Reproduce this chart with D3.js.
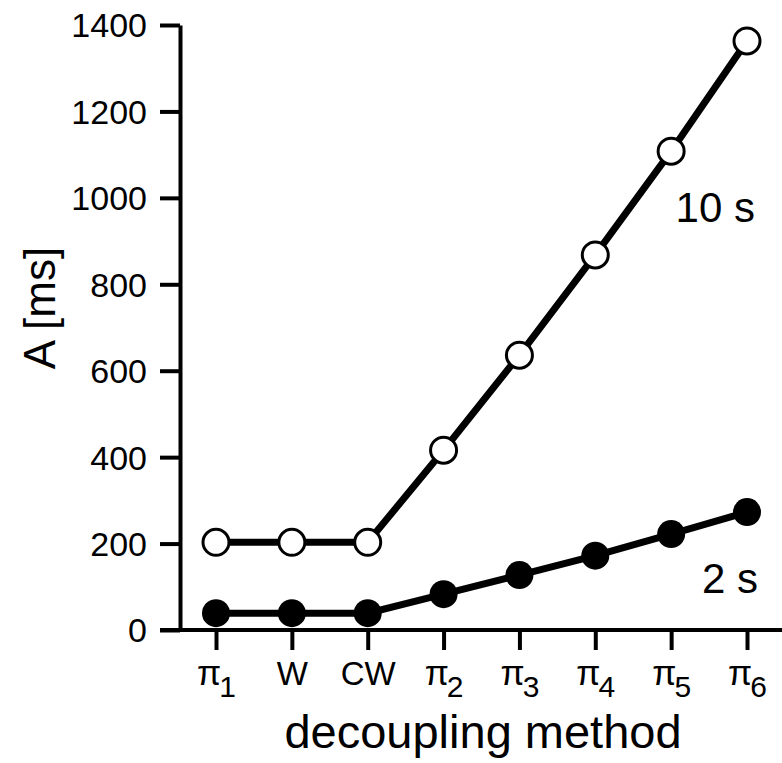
<!DOCTYPE html>
<html>
<head>
  <meta charset="utf-8">
  <script src="https://d3js.org/d3.v7.min.js"></script>
  <style>
    body { margin: 0; background: #fff; }
    svg text { font-family: "Liberation Sans", Arial, Helvetica, sans-serif; fill: #000; }
  </style>
</head>
<body>
  <div id="chart"></div>

  <script type="text/javascript">

    // chart values
    var methods = ["π1", "W", "CW", "π2", "π3", "π4", "π5", "π6"];
    var tenSeconds = [203, 203, 203, 416, 636, 868, 1108, 1363];
    var twoSeconds = [39, 39, 39, 83, 127, 172, 222, 273];
    var yTicks = [0, 200, 400, 600, 800, 1000, 1200, 1400];

    var width = 782;
    var height = 763;

    var svg = d3.select('#chart')
                .append('svg')
                  .attr('width', width)
                  .attr('height', height);

    var x = d3.scalePoint()
        .domain(methods)
        .range([216, 747]);

    var y = d3.scaleLinear()
        .domain([0, 1400])
        .range([630, 25]);

    var axisX = 180;

    // y axis
    var yAxis = svg.append('g')
        .attr('transform', 'translate(' + axisX + ',0)')
        .call(d3.axisLeft(y)
          .tickValues(yTicks)
          .tickFormat(d3.format('d'))
          .tickSize(20)
          .tickSizeOuter(0)
          .tickPadding(13));

    yAxis.select('.domain')
        .attr('stroke-width', 4);
    yAxis.selectAll('.tick line')
        .attr('stroke-width', 4);
    yAxis.selectAll('.tick text')
        .attr('font-size', 34)
        .attr('dy', '0.35em');

    // x axis
    var xAxis = svg.append('g')
        .attr('transform', 'translate(0,' + y(0) + ')')
        .call(d3.axisBottom(x)
          .tickSize(20)
          .tickSizeOuter(0)
          .tickFormat(''));

    xAxis.select('.domain').remove();
    xAxis.selectAll('.tick line')
        .attr('stroke-width', 4);

    xAxis.append('line')
        .attr('x1', axisX - 20)
        .attr('x2', width)
        .attr('y1', 0)
        .attr('y2', 0)
        .attr('stroke', '#000')
        .attr('stroke-width', 4);

    // tick labels with subscripts for the pi methods
    var labels = xAxis.selectAll('.tick')
        .append('text')
        .attr('y', 55)
        .attr('text-anchor', 'middle')
        .attr('font-size', 33);

    labels.each(function(d) {
      var t = d3.select(this);
      if (d.charAt(0) === 'π') {
        t.append('tspan').attr('font-size', 35).text('π');
        t.append('tspan')
          .attr('font-size', 30)
          .attr('dx', -2)
          .attr('dy', 12)
          .text(d.slice(1));
      } else {
        t.text(d);
      }
    });

    // axis titles
    svg.append('text')
        .attr('transform', 'translate(55,308) rotate(-90)')
        .attr('text-anchor', 'middle')
        .attr('font-size', 44)
        .text('A [ms]');

    svg.append('text')
        .attr('x', 483)
        .attr('y', 748)
        .attr('text-anchor', 'middle')
        .attr('font-size', 47)
        .text('decoupling method');

    var line = d3.line()
        .x(function(d, i) { return x(methods[i]); })
        .y(function(d) { return y(d); });

    // 10 s series (open circles)
    svg.append('path')
        .datum(tenSeconds)
        .attr('d', line)
        .attr('fill', 'none')
        .attr('stroke', '#000')
        .attr('stroke-width', 7);

    svg.selectAll('.open')
        .data(tenSeconds)
        .enter()
        .append('circle')
        .attr('class', 'open')
        .attr('cx', function(d, i) { return x(methods[i]); })
        .attr('cy', function(d) { return y(d); })
        .attr('r', 13)
        .attr('fill', '#fff')
        .attr('stroke', '#000')
        .attr('stroke-width', 3);

    // 2 s series (filled circles)
    svg.append('path')
        .datum(twoSeconds)
        .attr('d', line)
        .attr('fill', 'none')
        .attr('stroke', '#000')
        .attr('stroke-width', 7);

    svg.selectAll('.filled')
        .data(twoSeconds)
        .enter()
        .append('circle')
        .attr('class', 'filled')
        .attr('cx', function(d, i) { return x(methods[i]); })
        .attr('cy', function(d) { return y(d); })
        .attr('r', 14)
        .attr('fill', '#000');

    // series labels
    svg.append('text')
        .attr('x', 755)
        .attr('y', 222)
        .attr('text-anchor', 'end')
        .attr('font-size', 42)
        .text('10 s');

    svg.append('text')
        .attr('x', 758)
        .attr('y', 593)
        .attr('text-anchor', 'end')
        .attr('font-size', 42)
        .text('2 s');

  </script>
</body>
</html>
